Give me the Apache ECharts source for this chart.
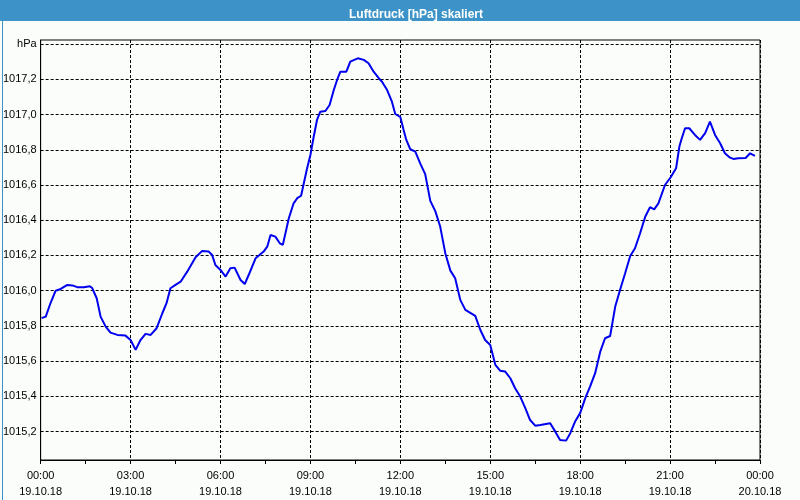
<!DOCTYPE html>
<html>
<head>
<meta charset="utf-8">
<script src="https://cdn.jsdelivr.net/npm/echarts@6/dist/echarts.min.js"></script>
<style>
html,body{margin:0;padding:0;background:#fbfdfb;}
#chart{width:800px;height:500px;}
</style>
</head>
<body>
<div id="chart"></div>
<script>
// Hours since 19.10.18 00:00
const hours = [0.03,0.17,0.33,0.5,0.67,0.89,1.06,1.22,1.44,1.64,1.72,1.87,2.0,2.17,2.33,2.56,2.83,3.0,3.17,3.33,3.5,3.67,3.87,4.06,4.2,4.33,4.5,4.67,4.89,5.17,5.39,5.61,5.72,5.83,6.0,6.17,6.33,6.47,6.67,6.81,6.94,7.17,7.44,7.56,7.67,7.83,7.98,8.08,8.28,8.44,8.56,8.69,8.78,8.89,9.0,9.11,9.22,9.33,9.5,9.64,9.78,9.89,10.0,10.2,10.33,10.58,10.78,10.94,11.11,11.28,11.39,11.56,11.72,11.83,12.0,12.11,12.2,12.33,12.5,12.67,12.83,13.0,13.17,13.33,13.5,13.67,13.83,14.0,14.17,14.5,14.67,14.83,15.0,15.17,15.33,15.5,15.67,15.83,16.0,16.17,16.33,16.5,16.67,17.0,17.17,17.33,17.53,17.67,17.83,18.0,18.17,18.33,18.5,18.67,18.83,19.0,19.17,19.33,19.5,19.67,19.83,20.0,20.17,20.33,20.47,20.61,20.83,21.02,21.2,21.31,21.39,21.5,21.64,21.83,22.0,22.17,22.33,22.5,22.67,22.83,23.0,23.11,23.28,23.52,23.67,23.83];
const pressure = [1015.844,1015.853,1015.93,1016.0,1016.01,1016.033,1016.03,1016.02,1016.02,1016.025,1016.015,1015.957,1015.853,1015.796,1015.762,1015.749,1015.745,1015.72,1015.664,1015.72,1015.755,1015.749,1015.787,1015.872,1015.929,1016.014,1016.033,1016.051,1016.108,1016.19,1016.226,1016.222,1016.203,1016.146,1016.118,1016.08,1016.127,1016.131,1016.061,1016.038,1016.089,1016.184,1016.222,1016.25,1016.316,1016.307,1016.269,1016.26,1016.411,1016.496,1016.525,1016.539,1016.61,1016.695,1016.77,1016.874,1016.969,1017.016,1017.02,1017.054,1017.139,1017.196,1017.243,1017.243,1017.3,1017.319,1017.31,1017.291,1017.243,1017.206,1017.186,1017.139,1017.073,1017.003,1016.986,1016.912,1016.856,1016.803,1016.789,1016.72,1016.662,1016.51,1016.45,1016.364,1016.213,1016.114,1016.071,1015.948,1015.891,1015.857,1015.777,1015.72,1015.692,1015.579,1015.546,1015.541,1015.503,1015.446,1015.399,1015.333,1015.266,1015.234,1015.238,1015.248,1015.2,1015.153,1015.149,1015.191,1015.257,1015.305,1015.39,1015.455,1015.532,1015.654,1015.73,1015.743,1015.91,1016.004,1016.099,1016.197,1016.241,1016.326,1016.42,1016.474,1016.462,1016.496,1016.6,1016.644,1016.695,1016.818,1016.865,1016.922,1016.922,1016.884,1016.856,1016.894,1016.96,1016.884,1016.837,1016.78,1016.755,1016.748,1016.752,1016.753,1016.78,1016.765];
const yTicks = [1015.2,1015.4,1015.6,1015.8,1016.0,1016.2,1016.4,1016.6,1016.8,1017.0,1017.2,1017.4];
const xTickHours = [0,3,6,9,12,15,18,21,24];
const xTickLabels = ['00:00\n19.10.18','03:00\n19.10.18','06:00\n19.10.18','09:00\n19.10.18','12:00\n19.10.18','15:00\n19.10.18','18:00\n19.10.18','21:00\n19.10.18','00:00\n20.10.18'];
const yUnit = 'hPa';
const titleText = 'Luftdruck [hPa] skaliert';

const seriesData = hours.map((h, i) => [h, pressure[i]]);
const font = 'Liberation Sans';

const chart = echarts.init(document.getElementById('chart'), null, {renderer: 'canvas'});
chart.setOption({
  backgroundColor: '#fbfdfb',
  animation: false,
  graphic: [
    {type: 'rect', left: 0, top: 0, shape: {width: 800, height: 21}, style: {fill: '#3d92c8'}, z: -10},
    {type: 'rect', left: 0, top: 0, shape: {width: 799, height: 499}, style: {fill: 'none', stroke: '#3d92c8', lineWidth: 1}, z: -10}
  ],
  title: {
    text: titleText,
    left: 411, top: 4, textAlign: 'center',
    textStyle: {color: '#ffffff', fontFamily: font, fontWeight: 'bold', fontSize: 12}
  },
  grid: {left: 40, right: 40, top: 40, bottom: 40, show: true, borderColor: '#000', borderWidth: 1, backgroundColor: 'transparent'},
  xAxis: {
    type: 'value', min: 0, max: 24, interval: 3,
    axisLine: {show: true, lineStyle: {color: '#000', width: 1}},
    axisTick: {show: true, length: 4, lineStyle: {color: '#000'}},
    minorTick: {show: true, splitNumber: 2, length: 4, lineStyle: {color: '#000'}},
    minorSplitLine: {show: false},
    splitLine: {show: true, lineStyle: {color: '#000', type: [3, 2], width: 1}},
    axisLabel: {
      margin: 8, color: '#000', fontFamily: font, fontSize: 11, lineHeight: 16,
      formatter: v => { const i = xTickHours.indexOf(v); return i >= 0 ? xTickLabels[i] : ''; }
    }
  },
  yAxis: {
    type: 'value', min: 1015.039, max: 1017.423,
    axisLine: {show: true, lineStyle: {color: '#000', width: 1}},
    axisTick: {show: false, customValues: yTicks},
    splitLine: {show: true, lineStyle: {color: '#000', type: [3, 2], width: 1}},
    axisLabel: {
      customValues: yTicks,
      margin: 4, color: '#000', fontFamily: font, fontSize: 11,
      formatter: v => Math.abs(v - 1017.4) < 1e-6 ? yUnit : v.toFixed(1).replace('.', ',')
    }
  },
  series: [{
    type: 'line', data: seriesData, showSymbol: false, symbol: 'none',
    lineStyle: {color: '#0000ee', width: 2}, z: 5
  }]
});
</script>
</body>
</html>
